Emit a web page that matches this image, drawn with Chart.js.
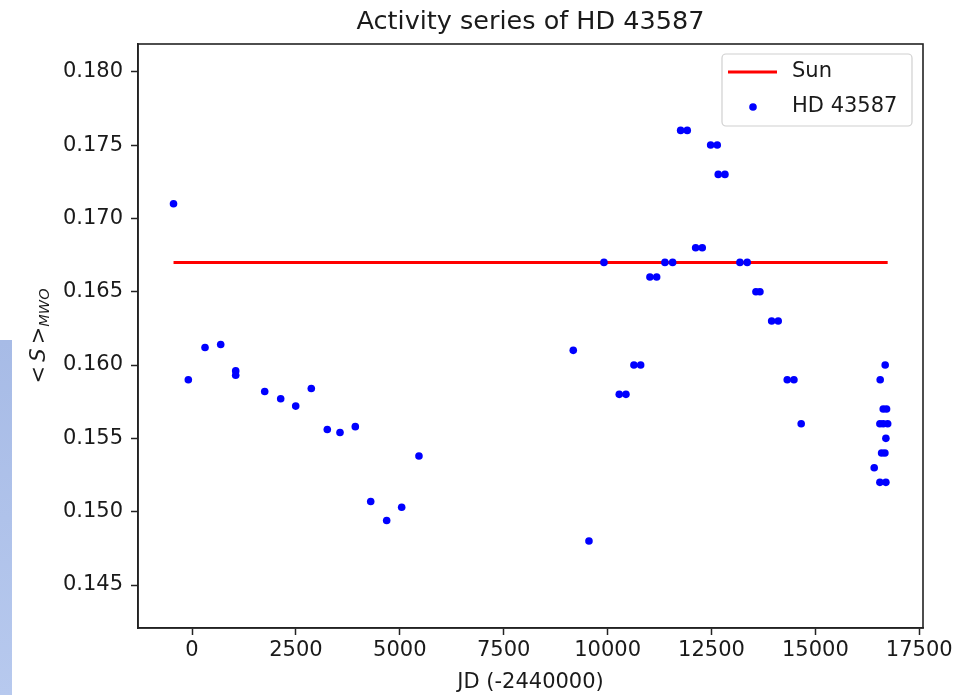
<!DOCTYPE html>
<html>
<head>
<meta charset="utf-8">
<script src="https://cdn.jsdelivr.net/npm/chart.js@4.4.0/dist/chart.umd.min.js"></script>
<style>
  html, body { margin: 0; padding: 0; background: #fff; }
  #wrap { width: 979px; height: 695px; }
</style>
</head>
<body>
<div id="wrap"><canvas id="grafico" width="979" height="695"></canvas></div>
<script>
// HD 43587 <S>_MWO measurements, JD - 2440000
const jdHD = [-445, -89, 313, 690, 1051, 1051, 1749, 2134, 2495, 2870, 3255, 3561, 3929, 4300, 4684, 5045, 5461,
  9174, 9552, 9913, 10281, 10442, 10634, 10796, 11019, 11181, 11380, 11565, 11758, 11917, 12119, 12278,
  12480, 12639, 12663, 12824, 13185, 13360, 13570, 13666, 13948, 14106, 14323, 14484, 14659,
  16416, 16553, 16553, 16560, 16594, 16633, 16633, 16673, 16680, 16697, 16697, 16713, 16740];
const sHD = [0.1710, 0.1590, 0.1612, 0.1614, 0.1596, 0.1593, 0.1582, 0.1577, 0.1572, 0.1584, 0.1556, 0.1554, 0.1558, 0.1507, 0.1494, 0.1503, 0.1538,
  0.161, 0.148, 0.167, 0.158, 0.158, 0.160, 0.160, 0.166, 0.166, 0.167, 0.167, 0.176, 0.176, 0.168, 0.168,
  0.175, 0.175, 0.173, 0.173, 0.167, 0.167, 0.165, 0.165, 0.163, 0.163, 0.159, 0.159, 0.156,
  0.153, 0.156, 0.152, 0.159, 0.154, 0.157, 0.156, 0.154, 0.160, 0.155, 0.152, 0.157, 0.156];

// Sun reference level
const sunJD = [-445, 16740];
const sunS = [0.167, 0.167];

const xTicks = [0, 2500, 5000, 7500, 10000, 12500, 15000, 17500];
const yTicks = [0.145, 0.150, 0.155, 0.160, 0.165, 0.170, 0.175, 0.180];

const TITULO = 'Activity series of HD 43587';
const FONT = "'DejaVu Sans', sans-serif";
const TXT = '#1a1a1a';
const LINHA = '#222';

// white background + the pale blue strip at the left edge
const fundo = {
  id: 'fundo',
  beforeDraw(chart) {
    const c = chart.ctx;
    c.save();
    c.fillStyle = '#fff';
    c.fillRect(0, 0, chart.width, chart.height);
    const g = c.createLinearGradient(0, 340, 0, 695);
    g.addColorStop(0, '#a7bbe6');
    g.addColorStop(1, '#b7c9ee');
    c.fillStyle = g;
    c.fillRect(0, 340, 12, 355);
    c.restore();
  }
};

// full box around the plot area, title over the axes, y label with subscript, legend
const moldura = {
  id: 'moldura',
  afterDraw(chart) {
    const c = chart.ctx, a = chart.chartArea;
    c.save();
    c.strokeStyle = LINHA;
    c.lineWidth = 1.6;
    c.strokeRect(a.left, a.top, a.right - a.left, a.bottom - a.top);

    // title centred on the axes, like matplotlib
    c.fillStyle = TXT;
    c.font = '25.5px ' + FONT;
    c.textAlign = 'center';
    c.textBaseline = 'middle';
    c.fillText(TITULO, (a.left + a.right) / 2, 22);
    c.textAlign = 'left';

    // y label: < S >_MWO, rotated
    c.translate(40, (a.top + a.bottom) / 2);
    c.rotate(-Math.PI / 2);
    const partes = [
      { t: '<', f: '21px ' + FONT, dy: 0 },
      { t: '\u2009', f: '21px ' + FONT, dy: 0 },
      { t: 'S', f: 'italic 21px ' + FONT, dy: 0 },
      { t: '\u2009', f: '21px ' + FONT, dy: 0 },
      { t: '>', f: '21px ' + FONT, dy: 0 },
      { t: 'MWO', f: 'italic 14.5px ' + FONT, dy: 5 }
    ];
    let total = 0;
    partes.forEach(p => { c.font = p.f; p.w = c.measureText(p.t).width; total += p.w; });
    let x = -total / 2;
    partes.forEach(p => { c.font = p.f; c.fillText(p.t, x, p.dy); x += p.w; });
    c.restore();

    // legend
    const ds = chart.data.datasets;
    const sun = ds.find(d => d.label === 'Sun');
    const hd = ds.find(d => d.label === 'HD 43587');
    const bx = a.right - 201, by = a.top + 10, bw = 190, bh = 72;
    c.save();
    c.fillStyle = 'rgba(255,255,255,0.85)';
    c.strokeStyle = '#d0d0d0';
    c.lineWidth = 1.2;
    c.beginPath();
    c.roundRect(bx, by, bw, bh, 4);
    c.fill();
    c.stroke();
    c.strokeStyle = sun.borderColor;
    c.lineWidth = sun.borderWidth;
    c.beginPath();
    c.moveTo(bx + 6, by + 18);
    c.lineTo(bx + 55, by + 18);
    c.stroke();
    c.fillStyle = hd.backgroundColor;
    c.beginPath();
    c.arc(bx + 31, by + 53, hd.pointRadius, 0, Math.PI * 2);
    c.fill();
    c.fillStyle = TXT;
    c.font = '21px ' + FONT;
    c.textBaseline = 'middle';
    c.fillText(sun.label, bx + 70, by + 18);
    c.fillText(hd.label, bx + 70, by + 53);
    c.restore();
  }
};

const ctx = document.getElementById('grafico').getContext('2d');
new Chart(ctx, {
  type: 'scatter',
  data: {
    datasets: [
      {
        type: 'scatter',
        label: 'HD 43587',
        data: jdHD.map((x, i) => ({ x: x, y: sHD[i] })),
        backgroundColor: '#0000ff',
        borderColor: '#0000ff',
        borderWidth: 0,
        pointRadius: 3.8,
        order: 0
      },
      {
        type: 'line',
        label: 'Sun',
        data: sunJD.map((x, i) => ({ x: x, y: sunS[i] })),
        borderColor: '#ff0000',
        borderWidth: 3,
        pointRadius: 0,
        fill: false,
        order: 1
      }
    ]
  },
  options: {
    responsive: false,
    animation: false,
    devicePixelRatio: 1,
    layout: { padding: { left: 0, right: 56, top: 44, bottom: 0 } },
    plugins: {
      legend: { display: false },
      tooltip: { enabled: false },
      title: { display: false }
    },
    scales: {
      x: {
        type: 'linear',
        min: -1300,
        max: 17590,
        afterBuildTicks: s => { s.ticks = xTicks.map(v => ({ value: v })); },
        afterFit: s => { s.height = 67; },
        ticks: {
          color: TXT,
          font: { family: FONT, size: 21 },
          padding: 3,
          maxRotation: 0,
          callback: v => String(v)
        },
        grid: { display: true, drawOnChartArea: false, drawTicks: true, tickLength: 7, tickWidth: 1.5, tickColor: LINHA },
        border: { display: true, color: LINHA, width: 1.6 },
        title: {
          display: true,
          text: 'JD (-2440000)',
          color: TXT,
          font: { family: FONT, size: 21, lineHeight: 1.2 },
          padding: { top: 0, bottom: 0 }
        }
      },
      y: {
        type: 'linear',
        min: 0.14207,
        max: 0.18189,
        afterBuildTicks: s => { s.ticks = yTicks.map(v => ({ value: v })); },
        afterFit: s => { s.width = 138; },
        ticks: {
          color: TXT,
          font: { family: FONT, size: 21 },
          padding: 8,
          callback: v => v.toFixed(3)
        },
        grid: { display: true, drawOnChartArea: false, drawTicks: true, tickLength: 7, tickWidth: 1.5, tickColor: LINHA },
        border: { display: true, color: LINHA, width: 1.6 }
      }
    }
  },
  plugins: [fundo, moldura]
});
</script>
</body>
</html>
